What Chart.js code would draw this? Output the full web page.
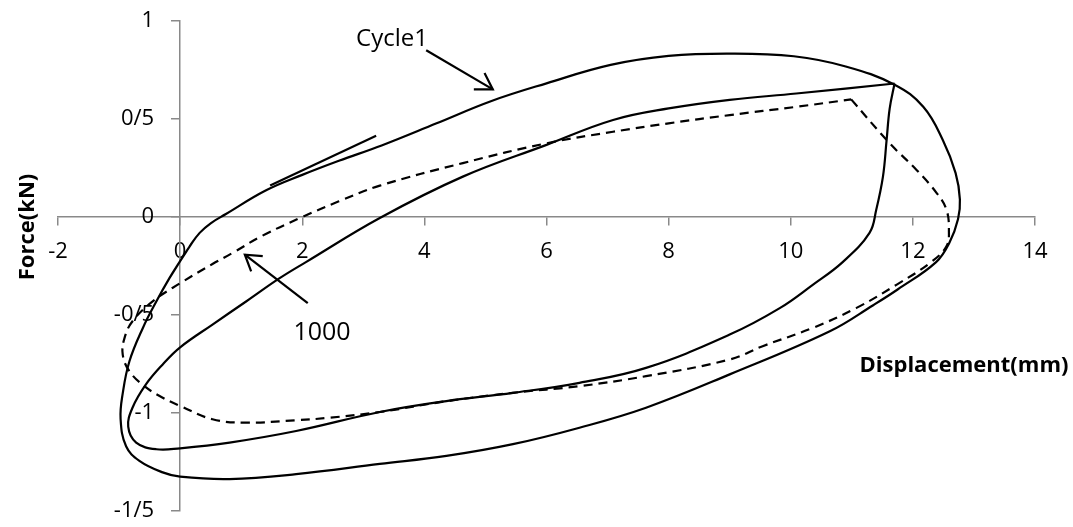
<!DOCTYPE html>
<html>
<head>
<meta charset="utf-8">
<script src="https://cdn.jsdelivr.net/npm/chart.js@4.4.1/dist/chart.umd.min.js"></script>
<style>
  html, body { margin: 0; padding: 0; background: #fff; }
  #wrap { width: 1073px; height: 527px; }
</style>
</head>
<body>
<div id="wrap"><canvas id="chart" width="1073" height="527"></canvas></div>
<script>
// ── Axes ──────────────────────────────────────────────
const xTicks = [-2, 0, 2, 4, 6, 8, 10, 12, 14];
const yTicks = [-1.5, -1, -0.5, 0, 0.5, 1];
const yTickLabels = ["-1/5", "-1", "-0/5", "0", "0/5", "1"];

// ── Cycle 1 (outer solid loop) ────────────────────────
// first two points repeated at the end so the closed loop has no corner
const cycle1X = [-0.175, 0, 0.16, 0.32, 0.5, 0.75, 1.4, 2.0, 2.6, 3.3, 4.2, 5.1, 6.0, 7.05, 8.0, 9.0, 10.05, 10.9, 11.7,
  12.17, 12.49, 12.7, 12.77, 12.74, 12.6, 12.38, 11.75, 11.35, 10.64, 9.0, 7.63, 6.54, 5.45, 4.36,
  3.27, 1.9, 0.81, 0, -0.285, -0.667, -0.885, -0.975, -0.94, -0.83, -0.61, -0.39, -0.175, 0, 0.16];
const cycle1Y = [-0.312, -0.225, -0.148, -0.081, -0.032, 0.015, 0.135, 0.215, 0.287, 0.365, 0.478, 0.592, 0.682, 0.776, 0.822, 0.834, 0.82, 0.768, 0.675,
  0.562, 0.393, 0.224, 0.09, -0.01, -0.13, -0.23, -0.37, -0.45, -0.583, -0.803, -0.973, -1.075, -1.159, -1.219,
  -1.26, -1.312, -1.337, -1.325, -1.303, -1.244, -1.17, -1.03, -0.9, -0.736, -0.566, -0.431, -0.312, -0.225, -0.148];

// ── Inner solid loop ──────────────────────────────────
const innerX = [11.7, 11.62, 11.57, 11.51, 11.4, 11.29, 10.85, 10.36, 9.82, 9.0, 7.63, 6.54, 5.45, 4.36,
  3.27, 1.9, 0.81, 0, -0.39, -0.72, -0.85, -0.78, -0.56, -0.285, 0, 0.53, 1.08, 1.63, 2.06, 3.27,
  4.63, 6.0, 7.09, 8.0, 9.0, 10.09, 11.7];
const innerY = [0.681, 0.553, 0.393, 0.206, 0.037, -0.081, -0.23, -0.346, -0.465, -0.6, -0.77, -0.846, -0.897, -0.939,
  -0.995, -1.092, -1.151, -1.18, -1.185, -1.151, -1.07, -0.973, -0.854, -0.752, -0.665, -0.549, -0.431, -0.312, -0.23, -0.005,
  0.206, 0.368, 0.495, 0.554, 0.598, 0.63, 0.681];

// ── Cycle 1000 (dashed loop) ──────────────────────────
const cycle1000X = [10.99, 11.62, 12.06, 12.39, 12.55, 12.59, 12.55, 12.3, 11.73, 11.07, 10.36, 9.54, 9.0,
  7.63, 6.54, 5.45, 4.36, 3.27, 2.45, 1.9, 1.08, 0.53, 0, -0.285, -0.585, -0.83, -0.94, -0.91, -0.78,
  -0.45, 0, 0.53, 0.86, 1.35, 2.0, 2.6, 3.27, 4.63, 6.0, 7.09, 8.0, 9.0, 10.09, 10.99];
const cycle1000Y = [0.6, 0.376, 0.24, 0.122, 0.037, -0.065, -0.149, -0.23, -0.346, -0.465, -0.566, -0.659, -0.727,
  -0.812, -0.863, -0.897, -0.94, -0.995, -1.024, -1.037, -1.049, -1.032, -0.964, -0.922, -0.863, -0.787, -0.702, -0.617, -0.532,
  -0.431, -0.338, -0.24, -0.183, -0.095, 0, 0.08, 0.16, 0.275, 0.376, 0.435, 0.478, 0.52, 0.562, 0.6];

// ── Tangent line and arrows ───────────────────────────
const tangentX = [1.474, 3.21];
const tangentY = [0.161, 0.415];
const arrowCycle1X = [4.03, 5.121];
const arrowCycle1Y = [0.851, 0.651];
const headCycle1X = [4.81, 5.121, 4.985];
const headCycle1Y = [0.651, 0.651, 0.735];
const arrow1000X = [2.09, 1.06];
const arrow1000Y = [-0.439, -0.192];
const head1000X = [1.353, 1.06, 1.163];
const head1000Y = [-0.2, -0.192, -0.278];

// ── Text notes (anchored at data values, baseline) ────
const noteTexts = ["Cycle1", "1000"];
const noteX = [3.47, 2.323];
const noteY = [0.871, -0.625];

const pts = (xs, ys) => xs.map((x, i) => ({ x, y: ys[i] }));

const curve = (xs, ys, dash) => ({
  data: pts(xs, ys),
  showLine: true,
  borderColor: "#000",
  borderWidth: 2.2,
  borderDash: dash || [],
  pointRadius: 0,
  tension: 0.4,
  fill: false,
});

const straight = (xs, ys) => ({
  data: pts(xs, ys),
  showLine: true,
  borderColor: "#000",
  borderWidth: 2.2,
  pointRadius: 0,
  tension: 0,
  fill: false,
});

const axisColor = "#898989";
const tickFont = '22px "Open Sans"';

const textPlugin = {
  id: "textNotes",
  afterDatasetsDraw(chart) {
    const { ctx, scales } = chart;
    const xs = scales.x, ys = scales.y;
    ctx.save();
    ctx.fillStyle = "#000";

    // y tick labels, right-aligned left of the tick marks
    ctx.font = tickFont;
    ctx.textAlign = "right";
    ctx.textBaseline = "middle";
    const axisX = xs.getPixelForValue(0);
    ys.ticks.forEach((t, i) => {
      ctx.fillText(yTickLabels[i], axisX - 26, ys.getPixelForValue(t.value));
    });

    ctx.textAlign = "center";
    ctx.textBaseline = "alphabetic";
    ctx.font = '24px "Open Sans"';
    ctx.fillText(noteTexts[0], xs.getPixelForValue(noteX[0]), ys.getPixelForValue(noteY[0]));
    ctx.font = '25px "Open Sans"';
    ctx.fillText(noteTexts[1], xs.getPixelForValue(noteX[1]), ys.getPixelForValue(noteY[1]));

    // axis titles
    ctx.font = 'bold 22px "Open Sans"';
    ctx.fillText("Displacement(mm)", 964, 372);
    ctx.translate(34, 227);
    ctx.rotate(-Math.PI / 2);
    ctx.fillText("Force(kN)", 0, 0);
    ctx.restore();
  },
};

new Chart(document.getElementById("chart"), {
  type: "scatter",
  data: {
    datasets: [
      curve(cycle1X, cycle1Y),
      curve(innerX, innerY),
      curve(cycle1000X, cycle1000Y, [9, 6]),
      straight(tangentX, tangentY),
      straight(arrowCycle1X, arrowCycle1Y),
      straight(headCycle1X, headCycle1Y),
      straight(arrow1000X, arrow1000Y),
      straight(head1000X, head1000Y),
    ],
  },
  options: {
    responsive: false,
    animation: false,
    layout: { padding: { left: 58, right: 38, top: 21, bottom: 16 } },
    plugins: { legend: { display: false }, tooltip: { enabled: false } },
    scales: {
      x: {
        type: "linear",
        position: { y: 0 },
        min: xTicks[0],
        max: xTicks[xTicks.length - 1],
        afterBuildTicks: (s) => { s.ticks = xTicks.map((v) => ({ value: v })); },
        grid: { drawOnChartArea: false, drawTicks: true, tickLength: 8, color: axisColor, lineWidth: 1.5 },
        border: { display: true, color: axisColor, width: 1.5 },
        ticks: {
          autoSkip: false,
          maxRotation: 0,
          padding: 14,
          color: "#000",
          font: { family: "Open Sans", size: 22 },
          callback: (v) => String(v),
        },
      },
      y: {
        type: "linear",
        position: { x: 0 },
        min: yTicks[0],
        max: yTicks[yTicks.length - 1],
        afterBuildTicks: (s) => { s.ticks = yTicks.map((v) => ({ value: v })); },
        grid: { drawOnChartArea: false, drawTicks: true, tickLength: 8, color: axisColor, lineWidth: 1.5 },
        border: { display: true, color: axisColor, width: 1.5 },
        ticks: { display: false },
      },
    },
  },
  plugins: [textPlugin],
});
</script>
</body>
</html>
